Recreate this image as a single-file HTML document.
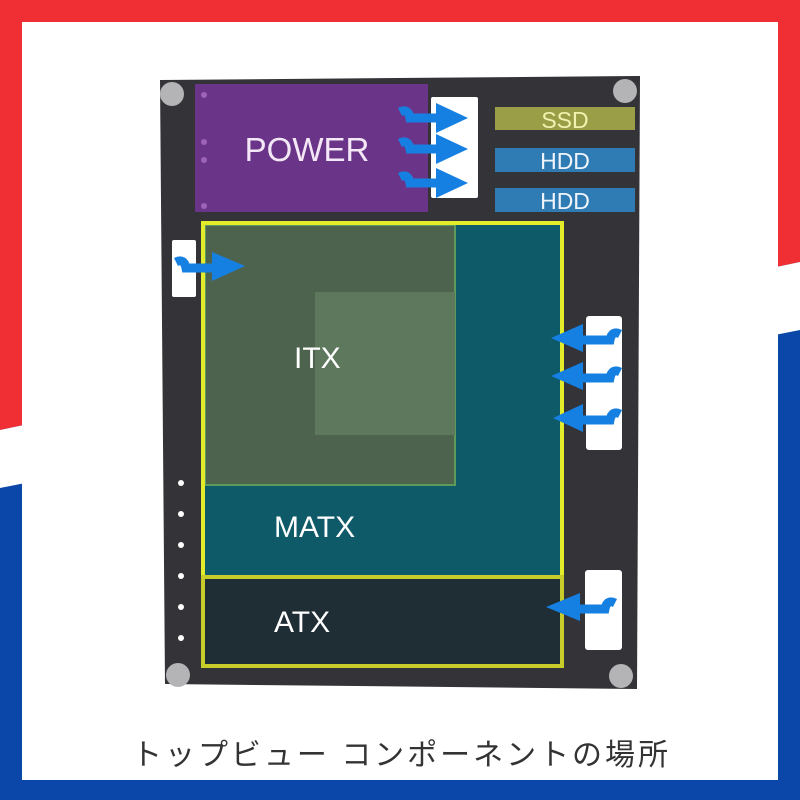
<!DOCTYPE html>
<html><head><meta charset="utf-8"><style>
html,body{margin:0;padding:0;width:800px;height:800px;overflow:hidden;background:#fff}
</style></head><body>
<svg width="800" height="800" viewBox="0 0 800 800" xmlns="http://www.w3.org/2000/svg">
<rect width="800" height="800" fill="#0b47a8"/>
<polygon points="0,0 800,0 800,262 0,430" fill="#f02f34"/>
<polygon points="0,430 800,262 800,330 0,488" fill="#ffffff"/>
<rect x="22" y="22" width="756" height="758" fill="#ffffff"/>
<polygon points="160,80 640,76 637,689 165,684" fill="#333338"/>
<rect x="195" y="84" width="233" height="128" fill="#6a3589"/>
<g fill="#9c63b8"><circle cx="204" cy="95" r="3"/><circle cx="204" cy="142" r="3"/><circle cx="204" cy="160" r="3"/><circle cx="204" cy="206" r="3"/></g>
<text x="307" y="161" font-family="Liberation Sans, sans-serif" font-size="33" fill="#f4e8f6" text-anchor="middle">POWER</text>
<rect x="431" y="97" width="47" height="101" fill="#fff" rx="2"/>
<rect x="495" y="107" width="140" height="23" fill="#9a9e47"/>
<rect x="495" y="148" width="140" height="24" fill="#2f7bb4"/>
<rect x="495" y="188" width="140" height="24" fill="#2f7bb4"/>
<g font-family="Liberation Sans, sans-serif" font-size="23" text-anchor="middle">
<text x="565" y="128" fill="#f2f2b0">SSD</text>
<text x="565" y="169" fill="#eef4fa">HDD</text>
<text x="565" y="209" fill="#eef4fa">HDD</text></g>
<rect x="205" y="225" width="355" height="350" fill="#0f5a68"/>
<rect x="205" y="225" width="250" height="260" fill="#4d634e" stroke="#5e9a5c" stroke-width="2"/>
<rect x="315" y="292" width="140" height="143" fill="#5d785c"/>
<rect x="203" y="223" width="359" height="354" fill="none" stroke="#e3ec2a" stroke-width="4"/>
<rect x="203" y="577" width="359" height="89" fill="#1f2d35" stroke="#c6cc2a" stroke-width="4"/>
<g font-family="Liberation Sans, sans-serif" font-size="30" fill="#fff">
<text x="294" y="368">ITX</text><text x="274" y="537">MATX</text><text x="274" y="632">ATX</text></g>
<rect x="172" y="240" width="24" height="57" fill="#fff" rx="2"/>
<rect x="586" y="316" width="36" height="134" fill="#fff" rx="3"/>
<rect x="585" y="570" width="37" height="80" fill="#fff" rx="3"/>
<g fill="#ffffff"><circle cx="181" cy="483" r="3"/><circle cx="181" cy="514" r="3"/><circle cx="181" cy="545" r="3"/><circle cx="181" cy="576" r="3"/><circle cx="181" cy="607" r="3"/><circle cx="181" cy="638" r="3"/></g>
<g fill="#b4b4b6"><circle cx="172" cy="94" r="12"/><circle cx="625" cy="91" r="12"/><circle cx="178" cy="675" r="12"/><circle cx="621" cy="676" r="12"/></g>
<g fill="#1680e2" stroke="#1680e2">
<path d="M400,112 q8,-4 10,6 l30,0" stroke-width="9" fill="none"/><polygon points="436,103 468,118 436,133" stroke="none"/>
<path d="M400,143 q8,-4 10,6 l30,0" stroke-width="9" fill="none"/><polygon points="436,134 468,149 436,164" stroke="none"/>
<path d="M400,177 q8,-4 10,6 l30,0" stroke-width="9" fill="none"/><polygon points="436,168 468,183 436,198" stroke="none"/>
<path d="M176,262 q8,-4 10,6 l30,0" stroke-width="9" fill="none"/><polygon points="212,252 245,266 212,281" stroke="none"/>
<path d="M620,334 q-8,-4 -10,6 l-30,0" stroke-width="9" fill="none"/><polygon points="583,324 551,338 583,352" stroke="none"/>
<path d="M620,372 q-8,-4 -10,6 l-30,0" stroke-width="9" fill="none"/><polygon points="583,362 551,376 583,390" stroke="none"/>
<path d="M620,414 q-8,-4 -10,6 l-30,0" stroke-width="9" fill="none"/><polygon points="583,404 553,418 583,432" stroke="none"/>
<path d="M615,603 q-8,-4 -10,6 l-30,0" stroke-width="9" fill="none"/><polygon points="580,593 546,607 580,621" stroke="none"/>
</g>
<text x="400" y="765" font-family="Liberation Sans, 'Noto Sans CJK JP', sans-serif" font-size="30" fill="#333" text-anchor="middle" textLength="536">トップビュー コンポーネントの場所</text>
</svg>
</body></html>
